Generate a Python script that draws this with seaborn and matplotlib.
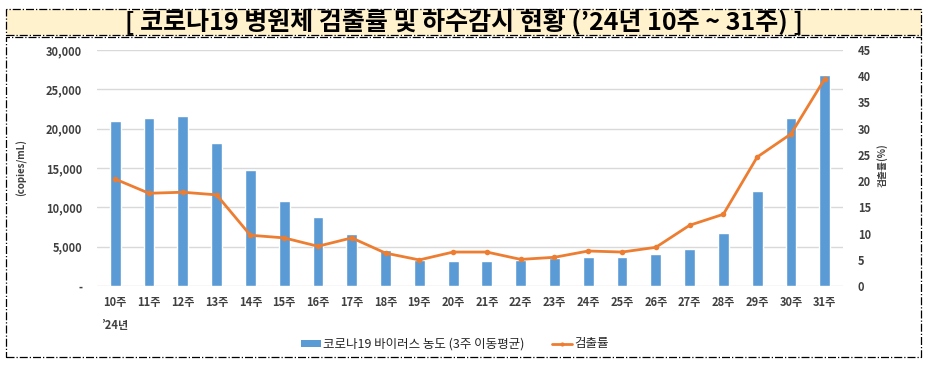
import numpy as np
import pandas as pd
import matplotlib.pyplot as plt
import seaborn as sns
from matplotlib.patches import Rectangle
from matplotlib.lines import Line2D
from matplotlib.patches import Patch

# Data
weeks = ["10주", "11주", "12주", "13주", "14주", "15주", "16주", "17주", "18주", "19주", "20주",
         "21주", "22주", "23주", "24주", "25주", "26주", "27주", "28주", "29주", "30주", "31주"]
virus_conc = [21000, 21400, 21600, 18200, 14700, 10800, 8800, 6600, 4600, 3300, 3200,
              3200, 3300, 3550, 3650, 3650, 4050, 4700, 6750, 12050, 21300, 26800]
detect_rate = [20.4, 17.7, 17.9, 17.4, 9.7, 9.2, 7.6, 9.2, 6.3, 5.0, 6.5,
               6.5, 5.1, 5.5, 6.7, 6.5, 7.4, 11.6, 13.7, 24.6, 29.0, 39.5]
left_ticks = [0, 5000, 10000, 15000, 20000, 25000, 30000]
right_ticks = [0, 5, 10, 15, 20, 25, 30, 35, 40, 45]

df = pd.DataFrame({"week": weeks, "conc": virus_conc, "rate": detect_rate})

sns.set_theme(style="white")
plt.rcParams["font.family"] = ["Noto Sans CJK KR", "DejaVu Sans"]

blue = "#5B9BD5"
orange = "#ED7D31"
tick_color = "#404040"

fig = plt.figure(figsize=(9.27, 3.65), dpi=100)
ax = fig.add_axes([0.105, 0.216, 0.804, 0.647])

# frames
fig.patches.append(Rectangle((6 / 927, 1 - 35 / 365), 915 / 927, 26 / 365, transform=fig.transFigure,
                             facecolor="#FFF2CC", edgecolor="black", linestyle="-.", linewidth=0.9))
fig.patches.append(Rectangle((6 / 927, 1 - 357 / 365), 915 / 927, 320 / 365, transform=fig.transFigure,
                             facecolor="none", edgecolor="black", linestyle="-.", linewidth=0.9))
fig.text(0.5, 1 - 22 / 365, "[ 코로나19 병원체 검출률 및 하수감시 현황 (’24년 10주 ~ 31주) ]",
         ha="center", va="center", fontsize=18, fontweight="bold", color="black")

sns.barplot(data=df, x="week", y="conc", color=blue, width=0.32, saturation=1, ax=ax, zorder=2)
ax.set_ylim(0, 30000)
ax.set_xlim(-0.53, len(weeks) - 0.47)
ax.set_yticks(left_ticks)
ax.set_yticklabels(["-" if v == 0 else f"{v:,}" for v in left_ticks])
ax.set_xlabel("")
ax.set_ylabel("")
ax.grid(axis="y", color="#D9D9D9", linewidth=1, zorder=0)
ax.set_axisbelow(True)
for s in ax.spines.values():
    s.set_visible(False)
ax.tick_params(axis="y", length=0, pad=11, labelsize=8, labelcolor=tick_color)
ax.tick_params(axis="x", length=0, pad=7, labelsize=8, labelcolor=tick_color)
for lab in ax.get_xticklabels() + ax.get_yticklabels():
    lab.set_fontweight("bold")

ax2 = ax.twinx()
sns.lineplot(x=np.arange(len(weeks)), y=df["rate"], color=orange, linewidth=2, marker="o",
             markersize=4, markeredgewidth=0, ax=ax2, zorder=3)
ax2.set_ylim(0, 45)
ax2.set_yticks(right_ticks)
ax2.set_ylabel("")
for s in ax2.spines.values():
    s.set_visible(False)
ax2.tick_params(axis="y", length=0, pad=11, labelsize=8, labelcolor=tick_color)
for lab in ax2.get_yticklabels():
    lab.set_fontweight("bold")
ax2.grid(False)

fig.text(22 / 927, 1 - 168 / 365, "(copies/mL)", rotation=90, ha="center", va="center",
         fontsize=7, fontweight="bold", color=tick_color)
fig.text(882 / 927, 1 - 165 / 365, "검출률(%)", rotation=90, ha="center", va="center",
         fontsize=7, fontweight="bold", color=tick_color)
fig.text(115 / 927, 1 - 325 / 365, "’24년", ha="center", va="center",
         fontsize=8, fontweight="bold", color=tick_color)

handles = [Patch(facecolor=blue, edgecolor="none"),
           Line2D([0], [0], color=orange, linewidth=2, marker="o", markersize=3, markeredgewidth=0)]
leg = fig.legend(handles, ["코로나19 바이러스 농도 (3주 이동평균)", "검출률"], loc="center",
                 bbox_to_anchor=(455 / 927, 1 - 344 / 365), ncol=2, frameon=False, fontsize=9,
                 handlelength=1.6, handleheight=0.5, columnspacing=2.2, handletextpad=0.2)
for t in leg.get_texts():
    t.set_fontweight("medium")
    t.set_color("#262626")

fig.savefig("out.png", dpi=100)
